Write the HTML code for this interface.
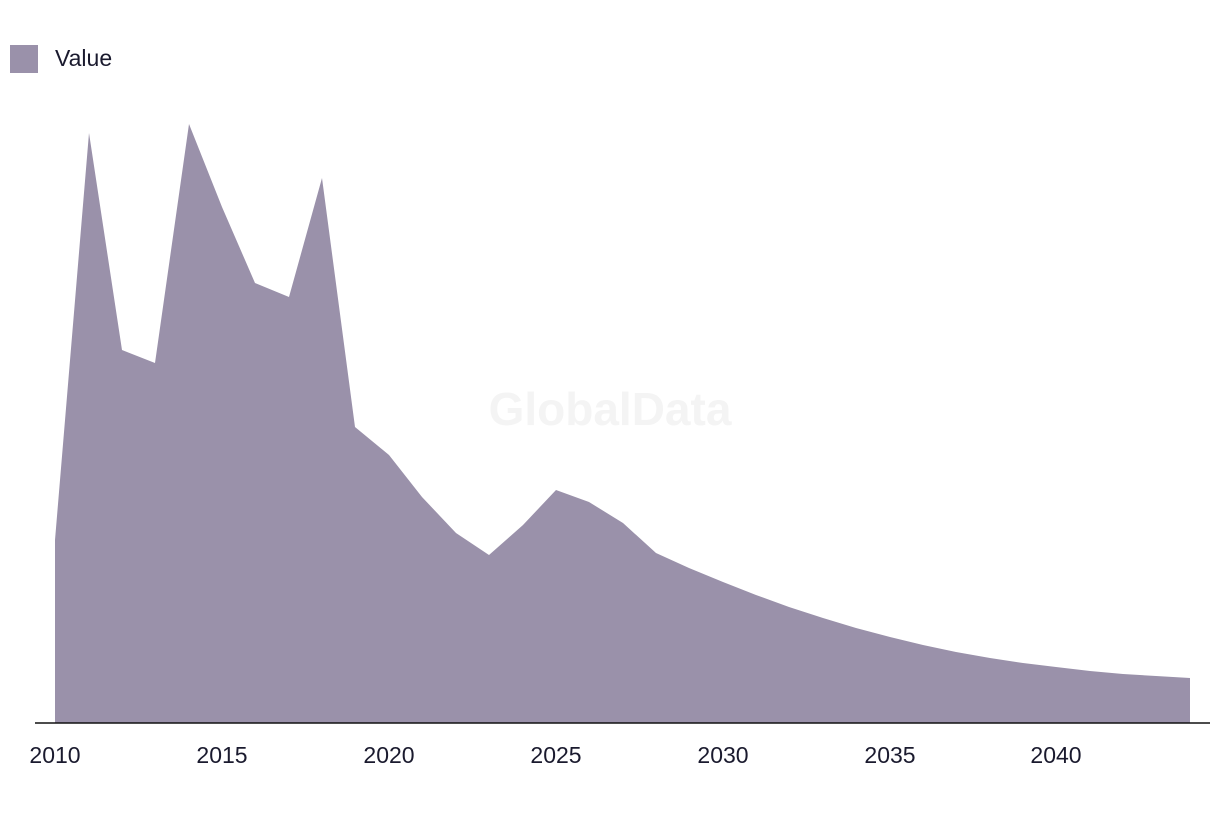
<!DOCTYPE html>
<html><head><meta charset="utf-8"><style>
body{margin:0;background:#fff;width:1220px;height:816px;overflow:hidden;font-family:"Liberation Sans",sans-serif}
</style></head><body>
<svg width="1220" height="816" xmlns="http://www.w3.org/2000/svg" font-family="Liberation Sans, sans-serif">
<rect x="10" y="45" width="28" height="28" fill="#9a91aa"/>
<text x="55" y="66" font-size="23" fill="#1a1a2e">Value</text>
<text x="610" y="425" font-size="46" font-weight="bold" fill="#f4f4f4" text-anchor="middle">GlobalData</text>
<polygon fill="#9a91aa" points="55,723 55,540 89,133 122,350 155,363 189,124 222,207 255,283 289,297 322,178 355,427 389,455 422,497 456,533 489,555 523,525 556,490 589,502 623,523 656,553 689,568 723,582 756,595 789,607 823,618 856,628 890,637 923,645 956,652 990,658 1023,663 1056,667 1090,671 1123,674 1156,676 1190,678 1190,723"/>
<line x1="35" y1="723" x2="1210" y2="723" stroke="#111" stroke-width="1.5"/>
<g font-size="23" fill="#1a1a2e" text-anchor="middle">
<text x="55" y="763">2010</text><text x="222" y="763">2015</text><text x="389" y="763">2020</text><text x="556" y="763">2025</text><text x="723" y="763">2030</text><text x="890" y="763">2035</text><text x="1056" y="763">2040</text>
</g>
</svg>
</body></html>
